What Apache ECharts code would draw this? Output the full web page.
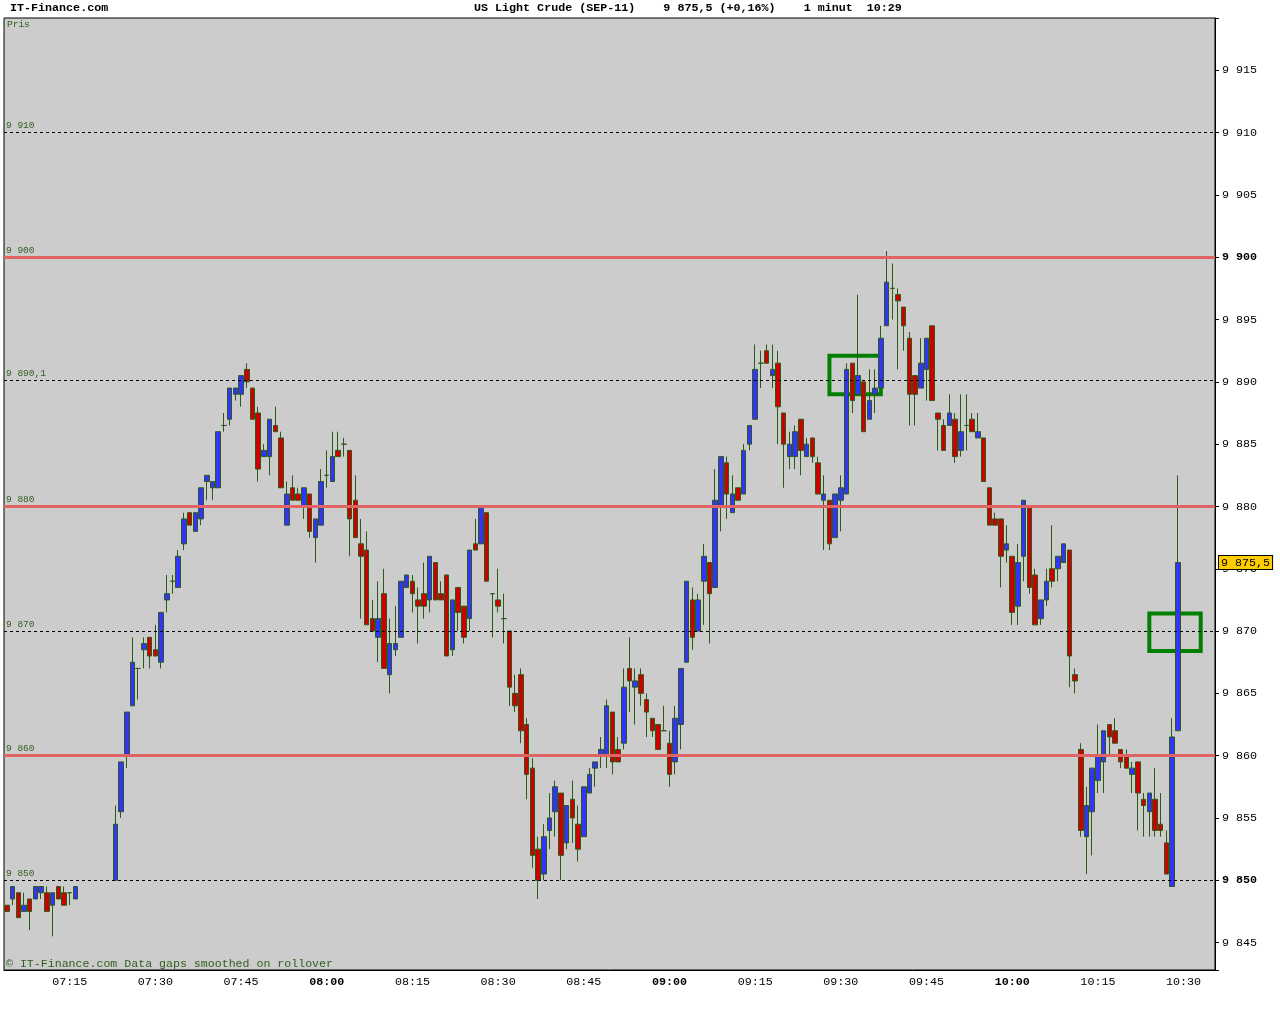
<!DOCTYPE html>
<html>
<head>
<meta charset="utf-8">
<title>US Light Crude (SEP-11)</title>
<script src="https://cdn.jsdelivr.net/npm/echarts@6.0.0/dist/echarts.min.js"></script>
<style>
html, body { margin: 0; padding: 0; background: #fff; }
#main { width: 1280px; height: 1024px; }
</style>
</head>
<body>
<div id="main"></div>
<script>
// one candle per minute, first slot 07:04, axis runs a few minutes past the last trade
var startHour = 7, startMinute = 4, slotCount = 212;

var opens = [
  9848, 9848.5, 9849, 9847.5, 9848.5, 9848.5, 9849, 9849, 9848, 9849.5,
  9849, 9849, 9848.5, null, null, null, null, null, null, 9850,
  9855.5, 9860, 9864, 9867, 9868.5, 9869.5, 9868.5, 9867.5, 9872.5, 9874,
  9873.5, 9877, 9879.5, 9878, 9879, 9882, 9881.5, 9881.5, 9886.5, 9887,
  9889, 9889, 9891, 9889.5, 9887.5, 9884, 9884, 9886.5, 9885.5, 9878.5,
  9881.5, 9881, 9880, 9881, 9877.5, 9878.5, 9882.5, 9882, 9884.5, 9885,
  9884.5, 9880.5, 9877, 9876.5, 9871, 9869.5, 9873, 9866.5, 9868.5, 9869.5,
  9873.5, 9874, 9872.5, 9873, 9872.5, 9875.5, 9873, 9874.5, 9868.5, 9873.5,
  9872, 9871, 9877, 9877, 9879.5, 9873, 9872.5, 9871, 9870, 9865,
  9866.5, 9862.5, 9859, 9852.5, 9850.5, 9854, 9855.5, 9857, 9853, 9856.5,
  9854.5, 9853.5, 9857, 9859, 9860, 9860, 9863.5, 9860.5, 9861, 9867,
  9865.5, 9866.5, 9864.5, 9863, 9862.5, 9862, 9861, 9859.5, 9862.5, 9867.5,
  9872.5, 9870, 9874, 9875.5, 9873.5, 9880, 9883.5, 9879.5, 9881.5, 9881,
  9885, 9887, 9891.5, 9892.5, 9890.5, 9891.5, 9887.5, 9884, 9884, 9887,
  9884, 9885.5, 9883.5, 9880.5, 9880.5, 9877.5, 9880.5, 9881, 9891.5, 9889,
  9890, 9887, 9889, 9889.5, 9894.5, 9897.5, 9897, 9896, 9893.5, 9890.5,
  9889.5, 9891, 9894.5, 9887.5, 9886.5, 9886.5, 9887, 9884.5, 9886.5, 9887,
  9885.5, 9885.5, 9881.5, 9879, 9879, 9876.5, 9876, 9872, 9876, 9880,
  9874.5, 9871, 9872.5, 9875, 9875, 9875.5, 9876.5, 9866.5, 9860.5, 9853.5,
  9855.5, 9858, 9859.5, 9862.5, 9862, 9860.5, 9860, 9858.5, 9859.5, 9856.5,
  9855.5, 9856.5, 9854.5, 9853, 9849.5, 9862
];
var highs = [
  9848, 9849.5, 9849, 9849, 9848.5, 9849.5, 9849.5, 9849.5, 9849, 9849.5,
  9849.5, 9849, 9849.5, null, null, null, null, null, null, 9856,
  9859.5, 9863.5, 9869.5, 9867, 9869.5, 9869.5, 9870.5, 9871.5, 9874.5, 9874.5,
  9876.5, 9879.5, 9879.5, 9879.5, 9881.5, 9882.5, 9882, 9886, 9887.5, 9889.5,
  9889.5, 9890.5, 9891.5, 9889.5, 9888, 9885, 9887, 9888, 9886, 9882,
  9882.5, 9881.5, 9881.5, 9881, 9879, 9883, 9884.5, 9886, 9886, 9885.5,
  9884.5, 9882.5, 9879, 9878, 9872.5, 9874, 9875, 9871, 9872, 9874,
  9874.5, 9874.5, 9873.5, 9875.5, 9876, 9875.5, 9874, 9874.5, 9872.5, 9873.5,
  9872, 9876.5, 9879, 9880, 9879.5, 9873, 9875, 9873, 9870, 9866.5,
  9867, 9863, 9859.8, 9853.5, 9854.5, 9857, 9858, 9857, 9856, 9858,
  9856, 9857.5, 9859, 9859.5, 9861.5, 9864.5, 9863.5, 9861.5, 9867, 9869.5,
  9867, 9867, 9865, 9863, 9862.5, 9864, 9862, 9864, 9867, 9874,
  9873.5, 9873, 9877, 9875.5, 9883, 9884, 9884, 9882.5, 9881.5, 9885,
  9886.5, 9893, 9892.5, 9893, 9893, 9892.5, 9887.5, 9886, 9886.5, 9887,
  9885.5, 9885.5, 9884, 9882.5, 9880.5, 9881, 9882.5, 9891.5, 9891.5, 9897,
  9890, 9891, 9891, 9894.5, 9900.5, 9899.5, 9897.5, 9896, 9894, 9890.5,
  9893.5, 9893.5, 9894.5, 9887.5, 9887, 9889, 9887.5, 9889, 9889, 9887.5,
  9887.5, 9885.5, 9881.5, 9879.5, 9879, 9878.5, 9876, 9877, 9880.5, 9880,
  9875, 9872.5, 9875, 9878.5, 9876, 9877, 9876.5, 9867, 9861, 9857.5,
  9859, 9862.5, 9862, 9862.5, 9863, 9860.5, 9860.5, 9859.5, 9859.5, 9857,
  9857, 9859, 9857, 9854, 9863, 9882.5
];
var lows = [
  9847.5, 9848, 9847, 9847.5, 9846, 9848.5, 9848.5, 9847.5, 9845.5, 9848.5,
  9848, 9848, 9848.5, null, null, null, null, null, null, 9850,
  9855, 9859, 9864, 9864.5, 9867, 9867, 9868, 9867, 9871.5, 9873,
  9873.5, 9876.5, 9878.5, 9878, 9878.5, 9880.5, 9880.5, 9881.5, 9886, 9886.5,
  9888.5, 9888, 9889.5, 9887, 9882, 9884, 9882.5, 9886, 9881.5, 9878.5,
  9880.5, 9880.5, 9879, 9877.5, 9875.5, 9878.5, 9881.5, 9882, 9884, 9884,
  9876, 9877.5, 9871, 9870.5, 9870, 9867.5, 9867, 9865, 9868, 9869.5,
  9873.5, 9871.5, 9869, 9871, 9871.5, 9872.5, 9872.5, 9868, 9868, 9870,
  9869, 9870, 9876.5, 9877, 9874, 9869.5, 9871.5, 9869, 9864, 9863.5,
  9861, 9856.5, 9851, 9848.5, 9850, 9852.5, 9853.5, 9850, 9852.5, 9853,
  9851.5, 9853.5, 9857, 9857.5, 9859, 9859, 9858.5, 9859.5, 9860.5, 9863.5,
  9862.5, 9864, 9861.5, 9861.5, 9860.5, 9862, 9857.5, 9858.5, 9860.5, 9867.5,
  9868.5, 9870, 9870.5, 9869, 9873.5, 9878, 9879, 9879.5, 9880.5, 9881,
  9884.5, 9887, 9889.5, 9891.5, 9889.5, 9885, 9881.5, 9883, 9883, 9882.5,
  9884, 9883.5, 9881, 9876.5, 9876.5, 9877.5, 9878, 9881, 9887.5, 9889,
  9886, 9887, 9887.5, 9889.5, 9894.5, 9895, 9891, 9892.5, 9886.5, 9886.5,
  9889.5, 9888.5, 9888.5, 9884.5, 9884.5, 9886.5, 9883.5, 9884, 9884.5, 9886,
  9885.5, 9882, 9878.5, 9878.5, 9873.5, 9875.5, 9870.5, 9870.5, 9874, 9873,
  9870.5, 9870.5, 9872, 9873.5, 9874, 9875.5, 9865.5, 9865, 9853.5, 9850.5,
  9852, 9857, 9857, 9860, 9861, 9859, 9859, 9857, 9854, 9853.5,
  9853.5, 9853.5, 9853.5, 9850.5, 9849.5, 9862
];
var closes = [
  9847.5, 9849.5, 9847, 9848, 9847.5, 9849.5, 9849.5, 9847.5, 9849, 9848.5,
  9848, 9849, 9849.5, null, null, null, null, null, null, 9854.5,
  9859.5, 9863.5, 9867.5, 9867, 9869, 9868, 9868, 9871.5, 9873, 9874,
  9876, 9879, 9878.5, 9879.5, 9881.5, 9882.5, 9882, 9886, 9886.5, 9889.5,
  9889.5, 9890.5, 9890, 9887, 9883, 9884.5, 9887, 9886, 9881.5, 9881,
  9880.5, 9880.5, 9881.5, 9878, 9879, 9882, 9882.5, 9884, 9884, 9885,
  9879, 9877.5, 9876, 9870.5, 9870, 9871, 9867, 9869, 9869, 9874,
  9874.5, 9873, 9872, 9872, 9876, 9872.5, 9872.5, 9868, 9872.5, 9871.5,
  9869.5, 9876.5, 9876.5, 9880, 9874, 9873, 9872, 9871, 9865.5, 9864,
  9862, 9858.5, 9852, 9850, 9853.5, 9855, 9857.5, 9852, 9856, 9855,
  9852.5, 9857.5, 9858.5, 9859.5, 9860.5, 9864, 9859.5, 9859.5, 9865.5, 9866,
  9866, 9865, 9863.5, 9862, 9860.5, 9862, 9858.5, 9863, 9867, 9874,
  9869.5, 9872.5, 9876, 9873, 9880.5, 9884, 9881, 9881, 9880.5, 9884.5,
  9886.5, 9891, 9891.5, 9891.5, 9891, 9888, 9885, 9885, 9886, 9884.5,
  9885, 9884, 9881, 9881, 9877, 9881, 9881.5, 9891, 9888.5, 9890.5,
  9886, 9888.5, 9889.5, 9893.5, 9898, 9897.5, 9896.5, 9894.5, 9889, 9889,
  9891.5, 9893.5, 9888.5, 9887, 9884.5, 9887.5, 9884, 9886, 9886.5, 9886,
  9886, 9882, 9878.5, 9878.5, 9876, 9877, 9871.5, 9875.5, 9880.5, 9873.5,
  9870.5, 9872.5, 9874, 9874, 9876, 9877, 9868, 9866, 9854, 9856,
  9859, 9860, 9862, 9861.5, 9861, 9859.5, 9859, 9859, 9857, 9856,
  9857, 9854, 9854, 9850.5, 9861.5, 9875.5
];

// horizontal levels drawn across the chart
var dottedLevels = [9850, 9870, 9890.1, 9910];
var redLevels = [9860, 9880, 9900];
var lastPrice = 9875.5;

// green marker boxes (minute from, minute to, price top, price bottom)
var boxFrom = ['09:28', '10:24'];
var boxTo = ['09:37', '10:33'];
var boxTop = [9892.1, 9871.4];
var boxBottom = [9889.0, 9868.4];

var FONT = 'Liberation Mono';
var GREEN_TXT = '#2f5f1f';

function pad(n) { return n < 10 ? '0' + n : '' + n; }
var times = [];
for (var i = 0; i < slotCount; i++) {
    var m = startHour * 60 + startMinute + i;
    times.push(pad(Math.floor(m / 60)) + ':' + pad(m % 60));
}

var candles = [];
for (var i = 0; i < opens.length; i++) {
    if (opens[i] == null) candles.push(['-', '-', '-', '-']);
    else candles.push([opens[i], closes[i], lows[i], highs[i]]);
}

// 9890.1 -> "9 890,1"
function price(v) {
    var s = String(v).split('.');
    var whole = s[0].replace(/\B(?=(\d{3})+(?!\d))/g, ' ');
    return s.length > 1 ? whole + ',' + s[1] : whole;
}

function quarterHour(idx, val) {
    var mm = val.split(':')[1];
    return mm === '00' || mm === '15' || mm === '30' || mm === '45';
}

var lines = [];
dottedLevels.forEach(function (v) {
    lines.push({ yAxis: v, lineStyle: { color: '#000', width: 1, type: [3, 3] },
        label: { formatter: price(v) } });
});
redLevels.forEach(function (v) {
    lines.push({ yAxis: v, lineStyle: { color: '#e06464', width: 3, type: 'solid' },
        label: { formatter: price(v) } });
});

var areas = [];
for (var i = 0; i < boxFrom.length; i++) {
    areas.push([{ xAxis: boxFrom[i], yAxis: boxTop[i] }, { xAxis: boxTo[i], yAxis: boxBottom[i] }]);
}

var myChart = echarts.init(document.getElementById('main'));
var option = {
    animation: false,
    backgroundColor: '#ffffff',
    textStyle: { fontFamily: FONT },
    grid: {
        left: 4, top: 18, right: 65, bottom: 54,
        show: true, backgroundColor: '#cccccc', borderColor: '#000', borderWidth: 1
    },
    xAxis: {
        type: 'category',
        data: times,
        boundaryGap: true,
        axisLine: { lineStyle: { color: '#000' } },
        axisTick: { alignWithLabel: true, interval: quarterHour, length: 5, lineStyle: { color: '#000' } },
        axisLabel: {
            interval: quarterHour,
            margin: 6,
            color: '#000',
            fontFamily: FONT,
            fontSize: 11.7,
            formatter: function (val) {
                return val.split(':')[1] === '00' ? '{b|' + val + '}' : val;
            },
            rich: { b: { fontWeight: 'bold', fontFamily: FONT, fontSize: 11.7, color: '#000' } }
        },
        splitLine: { show: false }
    },
    yAxis: {
        type: 'value',
        position: 'right',
        min: 9842.8,
        max: 9919.2,
        splitNumber: 15,
        axisLine: { show: true, lineStyle: { color: '#000' } },
        axisTick: { show: true, length: 4, lineStyle: { color: '#000' } },
        axisLabel: {
            margin: 7,
            color: '#000',
            fontFamily: FONT,
            fontSize: 11.7,
            formatter: function (v) {
                if (Math.abs(v % 5) > 0.001) return '';
                var t = price(Math.round(v));
                return Math.round(v) % 50 === 0 ? '{b|' + t + '}' : t;
            },
            rich: { b: { fontWeight: 'bold', fontFamily: FONT, fontSize: 11.7, color: '#000' } }
        },
        splitLine: { show: false }
    },
    series: [
        {
            name: 'US Light Crude',
            type: 'candlestick',
            data: candles,
            barWidth: 5,
            itemStyle: {
                color: '#3333ff',
                color0: '#cc0000',
                borderColor: '#2d5a16',
                borderColor0: '#2d5a16',
                borderWidth: 1
            },
            markLine: {
                silent: true,
                symbol: ['none', 'none'],
                label: {
                    show: true, position: 'insideStartTop', distance: 2,
                    color: GREEN_TXT, fontFamily: FONT, fontSize: 9.5
                },
                data: lines
            }
        },
        {
            name: 'boxes',
            type: 'line',
            z: 5,
            data: [],
            markArea: {
                silent: true,
                itemStyle: { color: 'rgba(0,0,0,0)', borderColor: '#008000', borderWidth: 4 },
                data: areas
            }
        },
        {
            // last price flag on the right axis
            name: 'last',
            type: 'line',
            z: 10,
            data: [],
            clip: false,
            markLine: {
                silent: true,
                symbol: ['none', 'none'],
                lineStyle: { color: 'rgba(0,0,0,0)', width: 1 },
                label: {
                    show: true, position: 'end', distance: 4,
                    formatter: price(lastPrice),
                    color: '#000', fontFamily: FONT, fontSize: 11.7,
                    backgroundColor: '#ffcc00', borderColor: '#000', borderWidth: 1,
                    padding: [1, 2, 0, 2]
                },
                data: [{ yAxis: lastPrice }]
            }
        }
    ],
    graphic: [
        { type: 'text', left: 10, top: 2, style: { text: 'IT-Finance.com', font: 'bold 11.7px ' + FONT, fill: '#000' } },
        { type: 'text', left: 474, top: 2, style: { text: 'US Light Crude (SEP-11)    9 875,5 (+0,16%)    1 minut  10:29', font: 'bold 11.7px ' + FONT, fill: '#000' } },
        { type: 'text', left: 7, top: 19, z: 10, style: { text: 'Pris', font: '9.5px ' + FONT, fill: GREEN_TXT } },
        { type: 'text', left: 6, top: 958, z: 10, style: { text: '\u00a9 IT-Finance.com Data gaps smoothed on rollover', font: '11.6px ' + FONT, fill: GREEN_TXT } }
    ]
};
myChart.setOption(option);
</script>
</body>
</html>
